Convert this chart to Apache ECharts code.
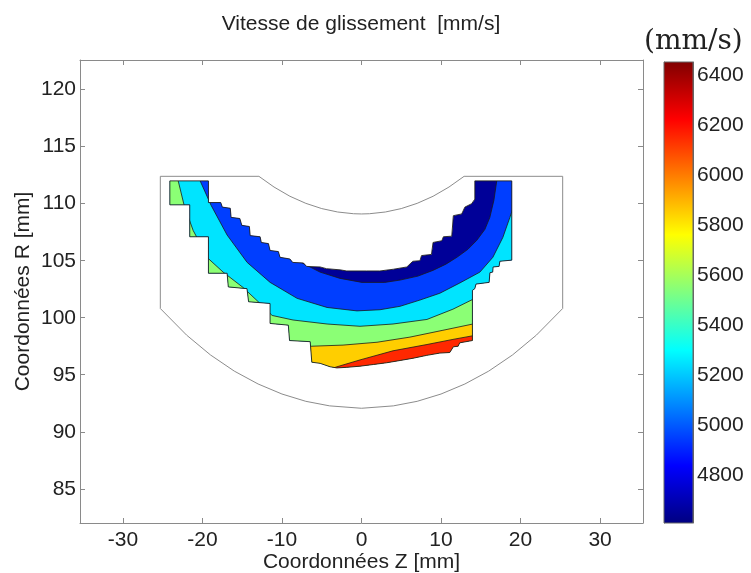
<!DOCTYPE html>
<html>
<head>
<meta charset="utf-8">
<script src="https://cdn.jsdelivr.net/npm/echarts@6/dist/echarts.min.js"></script>
<style>html,body{margin:0;padding:0;background:#fff}#c{width:751px;height:573px}</style>
</head>
<body>
<div id="c"></div>
<script>
// ---- data (mm and mm/s) ----
const xTicks = [-30, -20, -10, 0, 10, 20, 30];
const yTicks = [85, 90, 95, 100, 105, 110, 115, 120];
const cbTicks = [4800, 5000, 5200, 5400, 5600, 5800, 6000, 6200, 6400];
const cbRange = [4607, 6453];
const bandLevels = [4650, 4950, 5250, 5550, 5850, 6150];
const jetColors = ['#000080', '#0000ff', '#0080ff', '#00ffff', '#80ff80', '#ffff00', '#ff8000', '#ff0000', '#800000'];

// meshed (coloured) zone boundary [Z, R]
const regionEdge = [
  [-24.1,112.0],[-19.25,112.0],[-19.25,110.1],[-17.7,110.1],[-17.5,109.7],[-16.5,109.6],[-16.4,108.8],[-15.3,108.7],
  [-15.05,108.1],[-14.1,108.0],[-14.0,107.2],[-12.75,107.1],[-12.6,106.6],[-11.7,106.5],[-11.5,105.9],[-10.45,105.8],
  [-10.25,105.3],[-9.0,105.15],[-8.65,104.85],[-7.3,104.8],[-6.9,104.5],[-5.2,104.45],[-4.4,104.3],[-2.7,104.2],
  [-1.85,104.1],[0.65,104.1],[2.3,104.1],[4.0,104.25],[5.7,104.45],[6.45,104.95],[7.35,105.0],[7.55,105.45],
  [8.8,105.55],[9.0,106.6],[10.1,106.75],[10.3,107.1],[11.35,107.15],[11.55,108.95],[12.6,109.1],[13.0,109.7],
  [13.85,110.0],[14.25,110.4],[14.25,112.0],[18.9,112.0],[18.9,105.05],[17.4,104.95],[17.3,104.5],[16.55,104.45],
  [16.5,104.0],[16.15,103.95],[16.05,103.1],[14.4,102.95],[14.25,102.55],[13.95,102.4],[13.95,98.0],[12.35,97.8],
  [12.15,97.5],[11.55,97.45],[11.1,96.95],[9.85,96.9],[8.2,96.7],[6.5,96.45],[4.85,96.25],[3.15,96.05],[1.5,95.9],
  [-0.2,95.75],[-1.85,95.65],[-3.1,95.6],[-3.95,95.7],[-5.2,96.0],[-6.25,96.1],[-6.45,97.9],[-9.05,98.0],
  [-9.2,99.35],[-11.5,99.5],[-11.5,101.25],[-14.2,101.4],[-14.4,102.55],[-16.75,102.7],[-16.9,103.9],[-19.25,103.9],
  [-19.25,107.1],[-21.6,107.1],[-21.6,109.9],[-24.1,109.9]
];

// iso-lines between bands [Z, R]
const lineNavyBlue = [[-21.55,114.7],[-19.66,112.5],[-17.15,110.3],[-14.64,108.55],[-12.5,107.15],[-10.87,106.2],[-9.36,105.55],[-7.73,104.9],[-5.21,104.0],[-2.7,103.45],[0.06,103.1],[2.92,103.1],[4.84,103.3],[7.1,103.65],[8.98,104.15],[10.62,104.7],[12.0,105.3],[13.38,106.0],[14.51,106.8],[15.52,107.75],[16.14,108.8],[16.65,110.3],[17.02,112.05],[17.27,114.7]];
const lineBlueCyan = [[-21.29,114.7],[-20.29,112.0],[-18.91,109.85],[-16.9,107.25],[-14.38,104.85],[-11.49,103.1],[-8.1,101.7],[-4.33,100.9],[-0.57,100.6],[2.32,100.7],[4.84,101.0],[7.35,101.55],[9.86,102.15],[12.37,103.05],[14.89,104.0],[16.52,105.3],[17.78,107.05],[18.66,108.8],[19.16,109.85]];
const lineCyanGreen = [[-24.31,114.7],[-23.05,112.0],[-22.3,109.85],[-21.17,107.65],[-19.28,105.2],[-17.4,104.0],[-14.89,102.65],[-12.75,101.25],[-11.24,100.2],[-8.61,99.8],[-4.33,99.45],[-0.19,99.25],[3.96,99.45],[8.23,99.85],[11.5,100.75],[14.26,101.7],[16.14,102.4]];
const lineGreenYellow = [[-10.24,97.7],[-6.34,97.5],[-2.32,97.6],[1.95,97.85],[6.09,98.3],[10.24,98.9],[14.01,99.45],[16.14,99.8]];
const lineYellowRed = [[-5.21,95.2],[-3.08,95.7],[-0.19,96.3],[3.96,97.1],[8.23,97.65],[11.5,98.1],[14.26,98.45],[16.14,98.65]];

// part contour (grey) [Z, R]
const partOutline = [
  [-25.3,112.4],[-12.9,112.4],[-11,111.46],[-9,110.65],[-7,110.03],[-5,109.57],[-3,109.27],[-1,109.12],[0,109.1],
  [1,109.12],[3,109.27],[5,109.57],[7,110.03],[9,110.65],[11,111.46],[12.9,112.4],[25.3,112.4],[25.3,100.81],
  [22,98.48],[19,96.74],[16,95.32],[13,94.19],[10,93.31],[7,92.67],[4,92.27],[0,92.06],[-4,92.27],[-7,92.67],
  [-10,93.31],[-13,94.19],[-16,95.32],[-19,96.74],[-22,98.48],[-25.3,100.81],[-25.3,112.4]
];

const isoLines = [lineNavyBlue, lineBlueCyan, lineCyanGreen, lineGreenYellow, lineYellowRed];

// ---- chart ----
const FONT = '"Liberation Sans", Arial, sans-serif';
const AXC = '#8a8a8a';
const chart = echarts.init(document.getElementById('c'), null, {renderer: 'canvas'});

function belowPolygon(line) {
  const f = line[0], l = line[line.length - 1];
  return line.concat([[60, l[1]], [60, 60], [-60, 60], [-60, f[1]]]);
}
function clipRegion(api) {
  return {type: 'polygon', shape: {points: regionEdge.map(p => api.coord(p))}};
}

const tickStyle = {color: AXC, width: 1};
const plain = v => String(v);

chart.setOption({
  animation: false,
  backgroundColor: '#fff',
  title: {
    text: 'Vitesse de glissement  [mm/s]',
    left: 361, top: 14, textAlign: 'center', padding: 0,
    textStyle: {fontFamily: FONT, fontSize: 21, fontWeight: 'normal', color: '#222'}
  },
  graphic: [{
    type: 'text', left: 644, top: 28,
    style: {text: '(mm/s)', font: '28px "DejaVu Serif", "Liberation Serif", serif', fill: '#222'}
  }],
  grid: [
    {left: 80, top: 60, width: 563, height: 463, outerBoundsMode: 'none', containLabel: false},
    {left: 664, top: 62, width: 29, height: 461, outerBoundsMode: 'none', containLabel: false}
  ],
  xAxis: [
    {gridIndex: 0, type: 'value', min: -35.4, max: 35.4, position: 'bottom',
     axisLine: {onZero: false, lineStyle: tickStyle},
     axisTick: {inside: true, length: 5, customValues: xTicks, lineStyle: tickStyle},
     axisLabel: {customValues: xTicks, formatter: plain, color: '#222', fontSize: 21, fontFamily: FONT, margin: 7},
     splitLine: {show: false},
     name: 'Coordonnées Z [mm]', nameLocation: 'middle', nameGap: 29, nameMoveOverlap: false,
     nameTextStyle: {fontFamily: FONT, fontSize: 21, color: '#222'}},
    {gridIndex: 0, type: 'value', min: -35.4, max: 35.4, position: 'top',
     axisLine: {onZero: false, lineStyle: tickStyle},
     axisTick: {inside: true, length: 5, customValues: xTicks, lineStyle: tickStyle},
     axisLabel: {show: false}, splitLine: {show: false}},
    {gridIndex: 1, type: 'value', min: 0, max: 1, show: false}
  ],
  yAxis: [
    {gridIndex: 0, type: 'value', min: 82, max: 122.6, position: 'left',
     axisLine: {onZero: false, lineStyle: tickStyle},
     axisTick: {inside: true, length: 5, customValues: yTicks, lineStyle: tickStyle},
     axisLabel: {customValues: yTicks, formatter: plain, color: '#222', fontSize: 21, fontFamily: FONT, margin: 4},
     splitLine: {show: false},
     name: 'Coordonnées R [mm]', nameLocation: 'middle', nameGap: 46, nameMoveOverlap: false,
     nameTextStyle: {fontFamily: FONT, fontSize: 21, color: '#222'}},
    {gridIndex: 0, type: 'value', min: 82, max: 122.6, position: 'right',
     axisLine: {onZero: false, lineStyle: tickStyle},
     axisTick: {inside: true, length: 5, customValues: yTicks, lineStyle: tickStyle},
     axisLabel: {show: false}, splitLine: {show: false}},
    {gridIndex: 1, type: 'value', min: cbRange[0], max: cbRange[1], position: 'right',
     axisLine: {onZero: false, lineStyle: {color: '#666', width: 1}},
     axisTick: {inside: true, length: 3, customValues: cbTicks, lineStyle: {color: '#444'}},
     axisLabel: {customValues: cbTicks, formatter: plain, color: '#222', fontSize: 21, fontFamily: FONT, margin: 4},
     splitLine: {show: false}},
    {gridIndex: 1, type: 'value', min: cbRange[0], max: cbRange[1], position: 'left',
     axisLine: {onZero: false, lineStyle: {color: '#666', width: 1}},
     axisTick: {inside: true, length: 3, customValues: cbTicks, lineStyle: {color: '#444'}},
     axisLabel: {show: false}, splitLine: {show: false}}
  ],
  visualMap: {
    show: false, type: 'continuous', min: cbRange[0], max: cbRange[1],
    dimension: 1, seriesIndex: 0, inRange: {color: jetColors}
  },
  series: [
    { // filled bands
      type: 'custom', xAxisIndex: 0, yAxisIndex: 0, silent: true,
      data: bandLevels.map((v, i) => [i, v]),
      renderItem: function (params, api) {
        const i = api.value(0);
        const poly = i === 0 ? regionEdge : belowPolygon(isoLines[i - 1]);
        return {
          type: 'polygon',
          shape: {points: poly.map(p => api.coord(p))},
          style: {fill: api.visual('color'), stroke: null},
          clipPath: clipRegion(api)
        };
      }
    },
    { // iso lines
      type: 'custom', xAxisIndex: 0, yAxisIndex: 0, silent: true,
      data: isoLines.map((l, i) => [i, 0]),
      renderItem: function (params, api) {
        const line = isoLines[api.value(0)];
        return {
          type: 'polyline',
          shape: {points: line.map(p => api.coord(p))},
          style: {fill: null, stroke: '#1a1a1a', lineWidth: 0.8},
          clipPath: clipRegion(api)
        };
      }
    },
    { // meshed zone border
      type: 'line', xAxisIndex: 0, yAxisIndex: 0, silent: true, symbol: 'none',
      data: regionEdge.concat([regionEdge[0]]),
      lineStyle: {color: '#1f1f1f', width: 0.9}
    },
    { // part outline
      type: 'line', xAxisIndex: 0, yAxisIndex: 0, silent: true, symbol: 'none',
      data: partOutline,
      lineStyle: {color: '#8c8c8c', width: 1}
    },
    { // colour bar
      type: 'custom', xAxisIndex: 2, yAxisIndex: 2, silent: true,
      data: [[0, cbRange[0], 1, cbRange[1]]],
      renderItem: function (params, api) {
        const p0 = api.coord([api.value(0), api.value(1)]);
        const p1 = api.coord([api.value(2), api.value(3)]);
        const stops = jetColors.map((c, k) => ({offset: k / (jetColors.length - 1), color: c}));
        return {
          type: 'rect',
          shape: {x: p0[0], y: p1[1], width: p1[0] - p0[0], height: p0[1] - p1[1]},
          style: {fill: new echarts.graphic.LinearGradient(0, 1, 0, 0, stops), stroke: '#666', lineWidth: 1}
        };
      }
    }
  ]
});
</script>
</body>
</html>
